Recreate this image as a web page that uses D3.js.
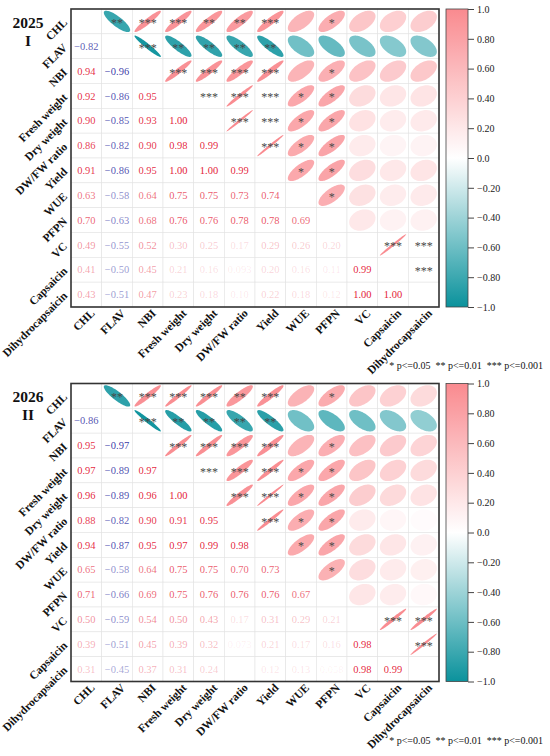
<!DOCTYPE html>
<html>
<head>
<meta charset="utf-8">
<script src="https://cdn.jsdelivr.net/npm/d3@7"></script>
<style>
  body { margin: 0; background: #fff; }
  svg text { font-family: "Liberation Serif", "Times New Roman", serif; }
</style>
</head>
<body>
<div id="chart"></div>
<script>

/* - - - DATA - - - */

var vars = ["CHL", "FLAV", "NBI", "Fresh weight", "Dry weight", "DW/FW ratio",
            "Yield", "WUE", "PFPN", "VC", "Capsaicin", "Dihydrocapsaicin"];

// lower triangle, row i holds r with columns 0..i-1
var corr2025 = [
  [],
  [-0.82],
  [0.94, -0.96],
  [0.92, -0.86, 0.95],
  [0.90, -0.85, 0.93, 1.00],
  [0.86, -0.82, 0.90, 0.98, 0.99],
  [0.91, -0.86, 0.95, 1.00, 1.00, 0.99],
  [0.63, -0.58, 0.64, 0.75, 0.75, 0.73, 0.74],
  [0.70, -0.63, 0.68, 0.76, 0.76, 0.78, 0.78, 0.69],
  [0.49, -0.55, 0.52, 0.30, 0.25, 0.17, 0.29, 0.26, 0.20],
  [0.41, -0.50, 0.45, 0.21, 0.16, 0.093, 0.20, 0.16, 0.11, 0.99],
  [0.43, -0.51, 0.47, 0.23, 0.18, 0.10, 0.22, 0.18, 0.12, 1.00, 1.00]
];

var corr2026 = [
  [],
  [-0.86],
  [0.95, -0.97],
  [0.97, -0.89, 0.97],
  [0.96, -0.89, 0.96, 1.00],
  [0.88, -0.82, 0.90, 0.91, 0.95],
  [0.94, -0.87, 0.95, 0.97, 0.99, 0.98],
  [0.65, -0.58, 0.64, 0.75, 0.75, 0.70, 0.73],
  [0.71, -0.66, 0.69, 0.75, 0.76, 0.76, 0.76, 0.67],
  [0.50, -0.59, 0.54, 0.50, 0.43, 0.17, 0.31, 0.29, 0.21],
  [0.39, -0.51, 0.45, 0.39, 0.32, 0.073, 0.21, 0.17, 0.16, 0.98],
  [0.31, -0.45, 0.37, 0.31, 0.24, 0.031, 0.12, 0.13, 0.058, 0.98, 0.99]
];

// upper triangle stars, row i holds columns i+1..11
var sig2025 = [
  ["**", "***", "***", "**", "**", "***", "", "*", "", "", ""],
  ["***", "**", "**", "**", "**", "", "", "", "", ""],
  ["***", "***", "***", "***", "", "*", "", "", ""],
  ["***", "***", "***", "*", "*", "", "", ""],
  ["***", "***", "*", "*", "", "", ""],
  ["***", "*", "*", "", "", ""],
  ["*", "*", "", "", ""],
  ["*", "", "", ""],
  ["", "", ""],
  ["***", "***"],
  ["***"],
  []
];

var sig2026 = [
  ["**", "***", "***", "***", "**", "***", "", "*", "", "", ""],
  ["***", "**", "**", "**", "**", "", "", "", "", ""],
  ["***", "***", "***", "***", "", "*", "", "", ""],
  ["***", "***", "***", "*", "*", "", "", ""],
  ["***", "***", "*", "*", "", "", ""],
  ["***", "*", "*", "", "", ""],
  ["*", "*", "", "", ""],
  ["*", "", "", ""],
  ["", "", ""],
  ["***", "***"],
  ["***"],
  []
];

var barTicks = [1.0, 0.8, 0.6, 0.4, 0.2, 0.0, -0.2, -0.4, -0.6, -0.8, -1.0];
var legendText = "* p<=0.05  ** p<=0.01  *** p<=0.001";

/* - - - END DATA - - - */

var width = 550, height = 756;
var boxW = 368, boxH = 298;

var svg = d3.select("#chart").append("svg")
    .attr("width", width)
    .attr("height", height);

var color = d3.scaleLinear()
    .domain([-1, 0, 1])
    .range(["#0b929c", "#ffffff", "#f98a8f"]);

var x = d3.scaleBand().domain(vars).range([0, boxW]);
var y = d3.scaleBand().domain(vars).range([0, boxH]);

var defs = svg.append("defs");
var grad = defs.append("linearGradient")
    .attr("id", "cbar")
    .attr("x1", 0).attr("y1", 1).attr("x2", 0).attr("y2", 0);
d3.range(-1, 1.001, 0.1).forEach(function (v) {
  grad.append("stop")
      .attr("offset", ((v + 1) / 2 * 100) + "%")
      .attr("stop-color", color(v));
});

function fullMatrix(lower) {
  var n = vars.length;
  var m = d3.range(n).map(function () { return new Array(n).fill(1); });
  lower.forEach(function (row, i) {
    row.forEach(function (v, j) { m[i][j] = v; m[j][i] = v; });
  });
  return m;
}

function fmt(v) {
  var a = Math.abs(v);
  return a < 0.1 ? d3.format(".2r")(v) : d3.format(".2f")(v);
}

function ellipsePath(r, cx, cy) {
  var d = Math.acos(Math.max(-1, Math.min(1, r)));
  var hw = x.bandwidth() * 0.43, hh = y.bandwidth() * 0.43;
  var pts = d3.range(0, 2 * Math.PI + 0.01, Math.PI / 40).map(function (t) {
    return [cx + Math.cos(t + d / 2) * hw, cy - Math.cos(t - d / 2) * hh];
  });
  return d3.line()(pts) + "Z";
}

function drawPanel(top, lower, sig, year, roman) {
  var m = fullMatrix(lower);
  var g = svg.append("g").attr("transform", "translate(71," + top + ")");

  var cells = [];
  vars.forEach(function (a, i) {
    vars.forEach(function (b, j) {
      cells.push({ i: i, j: j, r: m[i][j] });
    });
  });

  g.selectAll("rect.cell")
    .data(cells)
    .enter().append("rect")
      .attr("class", "cell")
      .attr("x", function (d) { return x(vars[d.j]); })
      .attr("y", function (d) { return y(vars[d.i]); })
      .attr("width", x.bandwidth())
      .attr("height", y.bandwidth())
      .attr("fill", "#fff")
      .attr("stroke", "#e3e3e3")
      .attr("stroke-width", 0.6);

  var upper = cells.filter(function (d) { return d.j > d.i; });
  var below = cells.filter(function (d) { return d.j < d.i; });

  g.selectAll("path.ell")
    .data(upper)
    .enter().append("path")
      .attr("class", "ell")
      .attr("d", function (d) {
        return ellipsePath(d.r, x(vars[d.j]) + x.bandwidth() / 2, y(vars[d.i]) + y.bandwidth() / 2);
      })
      .attr("fill", function (d) { return color(d.r); });

  g.selectAll("text.star")
    .data(upper)
    .enter().append("text")
      .attr("class", "star")
      .attr("x", function (d) { return x(vars[d.j]) + x.bandwidth() / 2; })
      .attr("y", function (d) { return y(vars[d.i]) + y.bandwidth() / 2 + 5.5; })
      .attr("text-anchor", "middle")
      .attr("font-size", 12)
      .attr("fill", "#484848")
      .text(function (d) { return sig[d.i][d.j - d.i - 1]; });

  g.selectAll("text.val")
    .data(below)
    .enter().append("text")
      .attr("class", "val")
      .attr("x", function (d) { return x(vars[d.j]) + x.bandwidth() / 2; })
      .attr("y", function (d) { return y(vars[d.i]) + y.bandwidth() / 2 + 3.6; })
      .attr("text-anchor", "middle")
      .attr("font-size", 10.5)
      .attr("fill", function (d) { return d.r < 0 ? "#3434a4" : "#e41a38"; })
      .attr("fill-opacity", function (d) { return Math.abs(d.r); })
      .text(function (d) { return fmt(d.r); });

  g.append("rect")
      .attr("width", boxW)
      .attr("height", boxH)
      .attr("fill", "none")
      .attr("stroke", "#333")
      .attr("stroke-width", 1.6);

  // row labels
  g.selectAll("text.rowlab")
    .data(vars)
    .enter().append("text")
      .attr("class", "rowlab")
      .attr("transform", function (d) {
        return "translate(-3," + (y(d) + y.bandwidth() / 2 + 2) + ") rotate(-45)";
      })
      .attr("text-anchor", "end")
      .attr("font-size", 11.5)
      .attr("font-weight", "bold")
      .attr("fill", "#111")
      .text(function (d) { return d; });

  // column labels
  g.selectAll("text.collab")
    .data(vars)
    .enter().append("text")
      .attr("class", "collab")
      .attr("transform", function (d) {
        return "translate(" + (x(d) + x.bandwidth() / 2 + 9) + "," + (boxH + 7) + ") rotate(-45)";
      })
      .attr("text-anchor", "end")
      .attr("font-size", 11.5)
      .attr("font-weight", "bold")
      .attr("fill", "#111")
      .text(function (d) { return d; });

  // colour bar
  var cb = g.append("g").attr("transform", "translate(" + (boxW + 7) + ",0)");
  var cy = d3.scaleLinear().domain([1, -1]).range([0, boxH]);
  cb.append("rect")
      .attr("width", 22)
      .attr("height", boxH)
      .attr("fill", "url(#cbar)")
      .attr("stroke", "#444")
      .attr("stroke-width", 0.8);
  cb.append("g")
      .attr("transform", "translate(22,0)")
      .call(d3.axisRight(cy).tickValues(barTicks).tickSize(6)
        .tickFormat(function (v) { return (v === 1 || v === -1 || v === 0) ? d3.format(".1f")(v) : d3.format(".2f")(v); }))
      .call(function (a) {
        a.select(".domain").remove();
        a.selectAll("line").attr("stroke", "#444");
        a.selectAll("text").attr("font-size", 10).attr("fill", "#222")
          .attr("font-family", "Liberation Serif");
      });

  g.append("text")
      .attr("x", 472)
      .attr("y", boxH + 62)
      .attr("text-anchor", "end")
      .attr("font-size", 10)
      .attr("fill", "#111")
      .attr("xml:space", "preserve")
      .style("white-space", "pre")
      .text(legendText);

  // panel title: year above roman numeral
  g.append("text")
      .attr("x", -43)
      .attr("y", 18.5)
      .attr("text-anchor", "middle")
      .attr("font-size", 15.5)
      .attr("font-weight", "bold")
      .attr("fill", "#111")
      .text(year);
  g.append("text")
      .attr("x", -43)
      .attr("y", 36.5)
      .attr("text-anchor", "middle")
      .attr("font-size", 15.5)
      .attr("font-weight", "bold")
      .attr("fill", "#111")
      .text(roman);
}

drawPanel(9, corr2025, sig2025, "2025", "I");
drawPanel(383.5, corr2026, sig2026, "2026", "II");

</script>
</body>
</html>
